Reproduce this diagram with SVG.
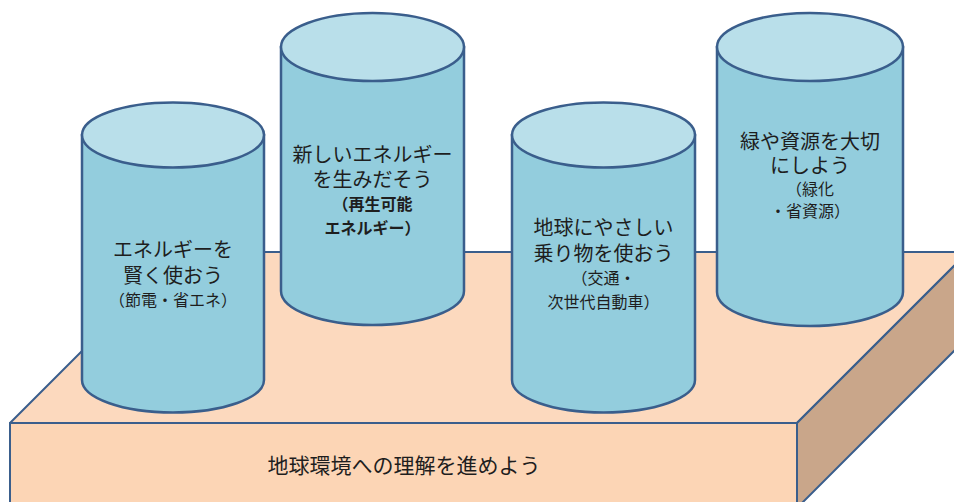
<svg xmlns="http://www.w3.org/2000/svg" width="954" height="502" viewBox="0 0 954 502">
<style>
.edge{stroke:#3A5E8C;stroke-width:2;stroke-linejoin:round}
.top{fill:#FCD9BE}
.front{fill:#FCD5B5}
.side{fill:#C9A68A}
.body{fill:#93CDDD;stroke:#3A5E8C;stroke-width:2.5}
.lid{fill:#B9DFEA;stroke:#3A5E8C;stroke-width:2.5}
text{font-family:"Liberation Sans","Noto Sans CJK JP",sans-serif;fill:#1E1E1E;text-anchor:middle}
.big{font-size:20px}
.small{font-size:16px}
.base{font-size:21px}
</style>
<rect width="954" height="502" fill="#FFFFFF"/>
<g id="slab">
<polygon class="top edge" points="10,423 181,252 968,252 797,423"/>
<polygon class="side edge" points="797,423 968,252 968,337 797,508"/>
<rect class="front edge" x="10" y="423" width="787" height="90"/>
<text class="base" x="404" y="473">地球環境への理解を進めよう</text>
</g>
<g id="connectors"/>
<g id="cyl-energy-save">
<path class="body" d="M82,135 L82,380 A91,32.5 0 0 0 264,380 L264,135 Z"/>
<ellipse class="lid" cx="173" cy="135" rx="91" ry="32.5"/>
<text class="big" x="173" y="257">エネルギーを</text>
<text class="big" x="173" y="282.5">賢く使おう</text>
<text class="small" x="173" y="306">（節電・省エネ）</text>
</g>
<g id="cyl-new-energy">
<path class="body" d="M281,47 L281,291 A91.5,34 0 0 0 464,291 L464,47 Z"/>
<ellipse class="lid" cx="372.5" cy="47" rx="91.5" ry="34"/>
<text class="big" x="372.5" y="162">新しいエネルギー</text>
<text class="big" x="372.5" y="187">を生みだそう</text>
<text class="small" font-weight="bold" x="372.5" y="210">（再生可能</text>
<text class="small" font-weight="bold" x="372.5" y="234">エネルギー）</text>
</g>
<g id="cyl-transport">
<path class="body" d="M512,135 L512,380 A91.5,32.5 0 0 0 695,380 L695,135 Z"/>
<ellipse class="lid" cx="603.5" cy="135" rx="91.5" ry="32.5"/>
<text class="big" x="603.5" y="235">地球にやさしい</text>
<text class="big" x="603.5" y="260.5">乗り物を使おう</text>
<text class="small" x="603.5" y="284">（交通・</text>
<text class="small" x="603.5" y="308">次世代自動車）</text>
</g>
<g id="cyl-green">
<path class="body" d="M717,47 L717,292 A93,34 0 0 0 903,292 L903,47 Z"/>
<ellipse class="lid" cx="810" cy="47" rx="93" ry="34"/>
<text class="big" x="810" y="149">緑や資源を大切</text>
<text class="big" x="810" y="172.5">にしよう</text>
<text class="small" x="810" y="195">（緑化</text>
<text class="small" x="810" y="217">・省資源）</text>
</g>
</svg>
